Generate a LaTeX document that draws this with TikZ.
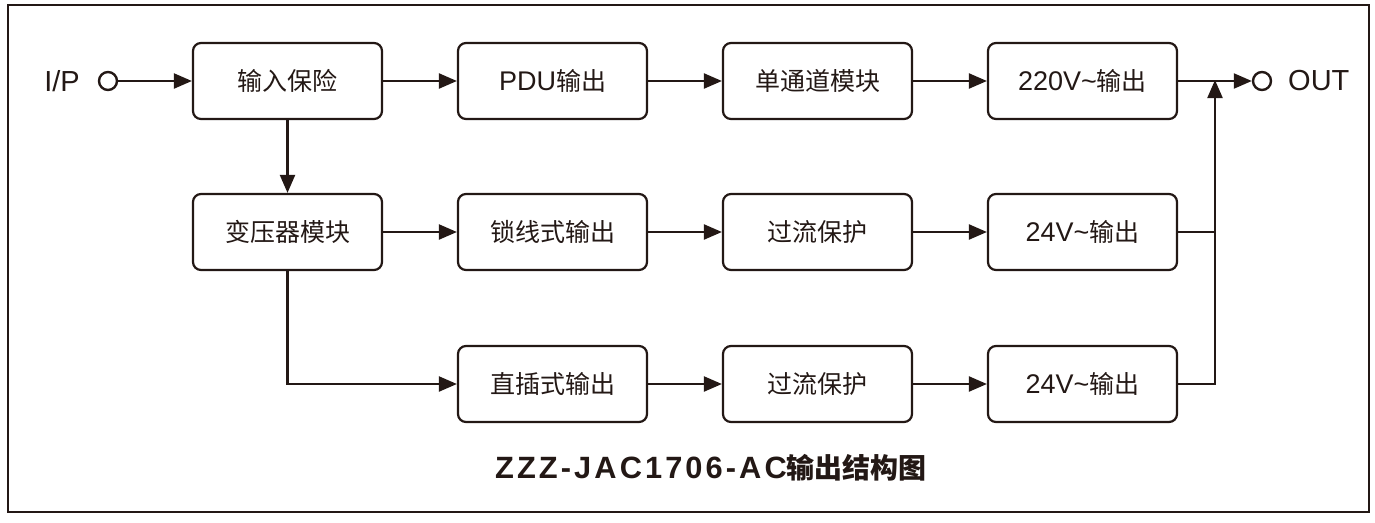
\documentclass[tikz,border=0pt]{standalone}
\usepackage{fontspec}
\setmainfont{Noto Sans CJK SC}
\newfontfamily\lat{Liberation Sans}[Scale=1.08]
\newfontfamily\latbig{Liberation Sans}
\newfontfamily\titlelat{Liberation Sans}[Scale=1.1,LetterSpace=10]
\usetikzlibrary{arrows.meta}
\definecolor{ink}{HTML}{231815}
\tikzset{
  blk/.style={draw=ink, line width=2.2pt, rounded corners=8pt, minimum width=189pt, minimum height=76pt, inner sep=0pt, text=ink, font=\fontsize{25}{29}\selectfont},
  conn/.style={draw=ink, line width=2.2pt},
  arr/.style={conn, -{Triangle[length=18pt,width=15pt]}},
  term/.style={circle, draw=ink, line width=2.4pt, minimum size=18pt, inner sep=0pt},
  lbl/.style={text=ink, inner sep=0pt, font=\latbig\fontsize{29}{32}\selectfont}
}
\begin{document}
\begin{tikzpicture}[x=1pt,y=-1pt]
\useasboundingbox (0,0) rectangle (1375,522);
\draw[ink, line width=2.8pt] (8,5) rectangle (1369,512);
% row 1
\node[blk] (a1) at (287.5,81) {输入保险};
\node[blk] (a2) at (552.5,81) {{\lat PDU}输出};
\node[blk] (a3) at (817.5,81) {单通道模块};
\node[blk] (a4) at (1082.5,81) {{\lat 220V\textasciitilde}输出};
% row 2
\node[blk] (b1) at (287.5,232) {变压器模块};
\node[blk] (b2) at (552.5,232) {锁线式输出};
\node[blk] (b3) at (817.5,232) {过流保护};
\node[blk] (b4) at (1082.5,232) {{\lat 24V\textasciitilde}输出};
% row 3
\node[blk] (c2) at (552.5,384) {直插式输出};
\node[blk] (c3) at (817.5,384) {过流保护};
\node[blk] (c4) at (1082.5,384) {{\lat 24V\textasciitilde}输出};
% terminals
\node[lbl] (ip) at (62,81) {I/P};
\node[term] (tin) at (108,81) {};
\node[term] (tout) at (1262,81) {};
\node[lbl, anchor=west] (out) at (1288,81) {OUT};
\coordinate (j1) at (1215,81);
\coordinate (j2) at (1215,232);
\coordinate (j3) at (1215,384);
\coordinate (d1) at (287.5,384);
% connectors
\draw[arr] (tin) -- (a1);
\draw[arr] (a1) -- (a2);
\draw[arr] (a2) -- (a3);
\draw[arr] (a3) -- (a4);
\draw[arr] (a4) -- (tout);
\draw[arr] (a1) -- (b1);
\draw[arr] (b1) -- (b2);
\draw[arr] (b2) -- (b3);
\draw[arr] (b3) -- (b4);
\draw[arr] (b1.south) -- (d1) -- (c2.west);
\draw[arr] (c2) -- (c3);
\draw[arr] (c3) -- (c4);
\draw[conn] (b4.east) -- (j2);
\draw[arr] (c4.east) -- (j3) -- ([yshift=1pt]j1);
% title
\node[text=ink, font=\bfseries\fontsize{28}{32}\selectfont] (title) at (711,468) {{\titlelat ZZZ-JAC1706-AC}输出结构图};
\end{tikzpicture}
\end{document}
